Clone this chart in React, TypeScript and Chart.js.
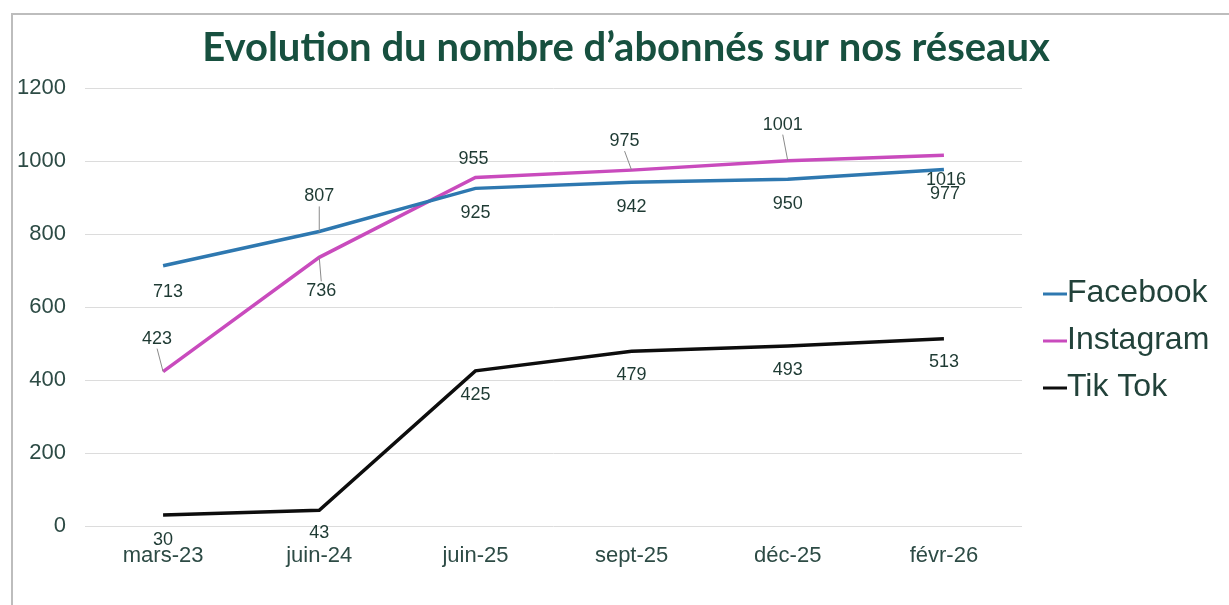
import React, { useEffect, useRef } from "react";
import { Chart, registerables } from "chart.js";

Chart.register(...registerables);

const categories = ["mars-23", "juin-24", "juin-25", "sept-25", "déc-25", "févr-26"];
const facebook = [713, 807, 925, 942, 950, 977];
const instagram = [423, 736, 955, 975, 1001, 1016];
const tiktok = [30, 43, 425, 479, 493, 513];
const seriesNames = ["Facebook", "Instagram", "Tik Tok"];
const yTicks = [0, 200, 400, 600, 800, 1000, 1200];
const titleText = "Evolution du nombre d’abonnés sur nos réseaux";

const colors = ["#2e78b0", "#c94bbd", "#0d0d0d"];

// label offsets (px) relative to each point: [dx, dy, leader]
const labelOffsets: [number, number, boolean][][] = [
  [[5, 26, false], [0, -35, true], [0, 25, false], [0, 25, false], [0, 25, false], [1, 25, false]],
  [[-6, -33, true], [2, 34, true], [-2, -18, false], [-7, -29, true], [-5, -36, true], [2, 25, false]],
  [[0, 25, false], [0, 23, false], [0, 24, false], [0, 24, false], [0, 24, false], [0, 23, false]],
];

const framePlugin = {
  id: "frame",
  beforeDraw(chart: any) {
    const ctx = chart.ctx;
    ctx.save();
    ctx.fillStyle = "#ffffff";
    ctx.fillRect(0, 0, chart.width, chart.height);
    ctx.strokeStyle = "#bdbdbd";
    ctx.lineWidth = 2;
    ctx.beginPath();
    ctx.moveTo(12, chart.height + 5);
    ctx.lineTo(12, 14);
    ctx.lineTo(chart.width + 5, 14);
    ctx.stroke();
    ctx.fillStyle = "#17503f";
    ctx.font = "bold 40px Lato, 'Open Sans', sans-serif";
    ctx.textAlign = "center";
    ctx.textBaseline = "middle";
    ctx.fillText(titleText, 626, 48);
    ctx.restore();
  },
};

const labelPlugin = {
  id: "pointLabels",
  afterDatasetsDraw(chart: any) {
    const ctx = chart.ctx;
    ctx.save();
    ctx.font = "18px 'Liberation Sans', Arial, sans-serif";
    ctx.textAlign = "center";
    ctx.textBaseline = "middle";
    chart.data.datasets.forEach((ds: any, di: number) => {
      const meta = chart.getDatasetMeta(di);
      meta.data.forEach((pt: any, i: number) => {
        const [dx, dy, leader] = labelOffsets[di][i];
        const lx = pt.x + dx;
        const ly = pt.y + dy;
        if (leader) {
          ctx.strokeStyle = "#8a8a8a";
          ctx.lineWidth = 1;
          ctx.beginPath();
          const sy = dy < 0 ? ly + 10 : ly - 10;
          ctx.moveTo(lx, sy);
          ctx.lineTo(pt.x, pt.y);
          ctx.stroke();
        }
        ctx.fillStyle = "#1e3a33";
        ctx.fillText(String(ds.data[i]), lx, ly);
      });
    });
    ctx.restore();
  },
};

const legendPlugin = {
  id: "sideLegend",
  afterDraw(chart: any) {
    const ctx = chart.ctx;
    ctx.save();
    ctx.font = "32px 'Liberation Sans', Arial, sans-serif";
    ctx.textBaseline = "middle";
    ctx.textAlign = "left";
    const x0 = chart.chartArea.right + 21;
    const yStart = 293;
    const gap = 47;
    chart.data.datasets.forEach((ds: any, i: number) => {
      const y = yStart + i * gap;
      ctx.strokeStyle = ds.borderColor;
      ctx.lineWidth = 3;
      ctx.beginPath();
      ctx.moveTo(x0, y + 1);
      ctx.lineTo(x0 + 24, y + 1);
      ctx.stroke();
      ctx.fillStyle = "#22423a";
      ctx.fillText(ds.label, x0 + 24, y);
    });
    ctx.restore();
  },
};

export default function App() {
  const ref = useRef<HTMLCanvasElement | null>(null);
  useEffect(() => {
    if (!ref.current) return;
    const series = [facebook, instagram, tiktok];
    const chart = new Chart(ref.current, {
      type: "line",
      data: {
        labels: categories,
        datasets: series.map((d, i) => ({
          label: seriesNames[i],
          data: d,
          borderColor: colors[i],
          backgroundColor: colors[i],
          borderWidth: 3.5,
          pointRadius: 0,
          tension: 0,
          fill: false,
        })),
      },
      options: {
        responsive: false,
        animation: false,
        layout: { padding: { left: 12, right: 207, top: 88, bottom: 29 } },
        plugins: {
          legend: { display: false },
          tooltip: { enabled: false },
          title: { display: false },
        },
        scales: {
          x: {
            offset: true,
            grid: { display: false, drawTicks: false },
            border: { display: false },
            ticks: {
              color: "#2d4b45",
              padding: 17,
              font: { family: "'Liberation Sans', Arial, sans-serif", size: 22 },
            },
            afterFit: (s: any) => {
              s.height = 50;
            },
          },
          y: {
            min: 0,
            max: 1200,
            afterBuildTicks: (s: any) => {
              s.ticks = yTicks.map((v) => ({ value: v }));
            },
            grid: { color: "#dcdcdc", lineWidth: 1, drawTicks: false },
            border: { display: false },
            ticks: {
              color: "#2d4b45",
              padding: 19,
              callback: (v: any) => String(v),
              font: { family: "'Liberation Sans', Arial, sans-serif", size: 22 },
            },
            afterFit: (s: any) => {
              s.width = 73;
            },
          },
        },
      },
      plugins: [framePlugin, labelPlugin, legendPlugin],
    });
    return () => chart.destroy();
  }, []);
  return (
    <div style={{ position: "fixed", left: 0, top: 0, width: 1229, height: 605, background: "#fff" }}>
      <canvas ref={ref} width={1229} height={605} style={{ display: "block" }} />
    </div>
  );
}
